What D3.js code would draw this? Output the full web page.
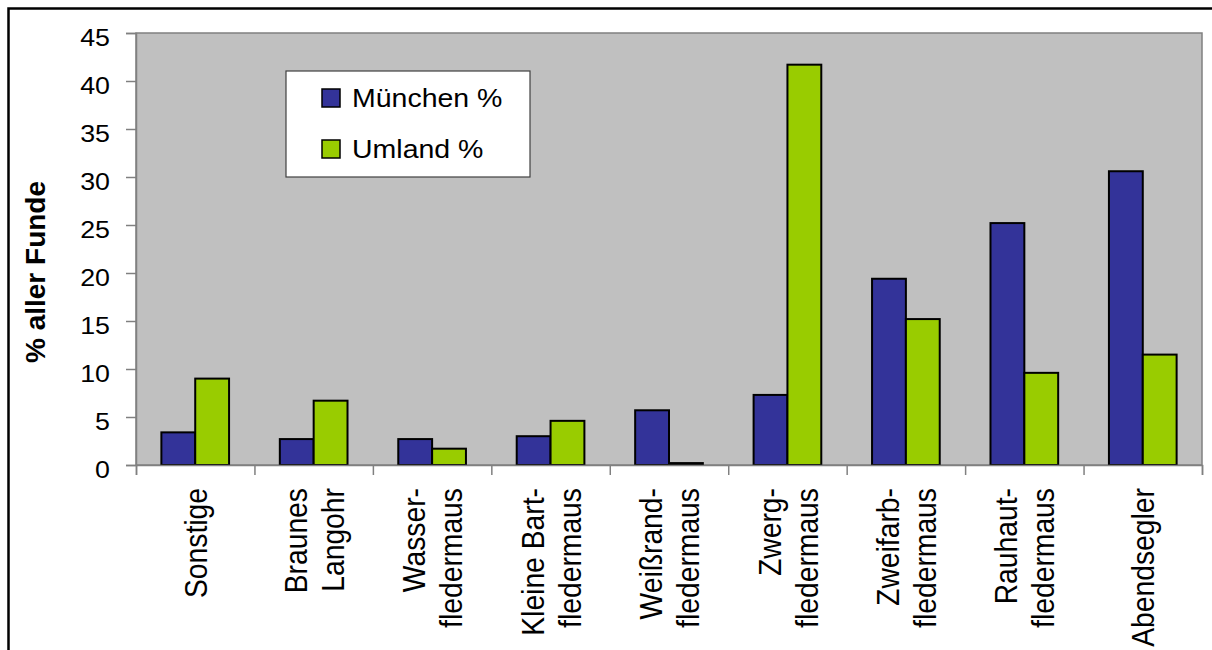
<!DOCTYPE html>
<html>
<head>
<meta charset="utf-8">
<script src="https://cdn.jsdelivr.net/npm/d3@7"></script>
<style>
  html, body { margin: 0; padding: 0; background: #fff; }
  svg { display: block; font-family: "Liberation Sans", Arial, sans-serif; }
</style>
</head>
<body>
<svg id="chart" width="1212" height="650"></svg>
<script>
// Fledermaus-Funde: Anteil je Art, München vs. Umland
const categories = [
  ["Sonstige"],
  ["Braunes", "Langohr"],
  ["Wasser-", "fledermaus"],
  ["Kleine Bart-", "fledermaus"],
  ["Weißrand-", "fledermaus"],
  ["Zwerg-", "fledermaus"],
  ["Zweifarb-", "fledermaus"],
  ["Rauhaut-", "fledermaus"],
  ["Abendsegler"]
];
const seriesNames = ["München %", "Umland %"];
const muenchen = [3.4, 2.7, 2.7, 3.0, 5.7, 7.3, 19.4, 25.2, 30.6];
const umland   = [9.0, 6.7, 1.7, 4.6, 0.2, 41.7, 15.2, 9.6, 11.5];
const yTicks = [0, 5, 10, 15, 20, 25, 30, 35, 40, 45];
const seriesColors = ["#333399", "#99CC00"];

const svg = d3.select("#chart");
const plot = { left: 136, right: 1202, top: 33, bottom: 465 };
const sx = 1.14; // horizontal glyph stretch of all labels

// outer frame
svg.append("rect")
  .attr("x", 8.5).attr("y", 8.5)
  .attr("width", 1300).attr("height", 800)
  .attr("fill", "none").attr("stroke", "#000").attr("stroke-width", 2.5);

const keys = categories.map((c, i) => i);
const x = d3.scaleBand().domain(keys).range([plot.left, plot.right]).padding(0);
const xs = d3.scaleBand().domain([0, 1]).range([0, x.step()])
  .paddingInner(0).paddingOuter(0.75);
const y = d3.scaleLinear().domain([0, 45]).range([plot.bottom, plot.top]);

// plot area
svg.append("rect")
  .attr("x", plot.left).attr("y", plot.top)
  .attr("width", plot.right - plot.left).attr("height", plot.bottom - plot.top)
  .attr("fill", "#C0C0C0").attr("stroke", "#808080").attr("stroke-width", 1.5);

// bars
const data = keys.map(i => [muenchen[i], umland[i]]);
const groups = svg.append("g").selectAll("g").data(data).join("g")
  .attr("transform", (d, i) => `translate(${x(i)},0)`);
groups.selectAll("rect").data(d => d.map((v, s) => ({ v, s }))).join("rect")
  .attr("x", d => xs(d.s))
  .attr("y", d => y(d.v))
  .attr("width", xs.bandwidth())
  .attr("height", d => y(0) - y(d.v))
  .attr("fill", d => seriesColors[d.s])
  .attr("stroke", "#000").attr("stroke-width", 2);

// y axis
const yAxis = svg.append("g")
  .attr("transform", `translate(${plot.left},0)`)
  .call(d3.axisLeft(y).tickValues(yTicks).tickSize(10).tickPadding(0).tickFormat(d3.format("d")));
yAxis.select(".domain").attr("stroke", "#808080").attr("stroke-width", 1.5);
yAxis.selectAll(".tick line").attr("stroke", "#808080").attr("stroke-width", 1.5);
yAxis.selectAll(".tick text")
  .attr("x", null).attr("dy", null)
  .attr("font-size", 23.5).attr("fill", "#000")
  .attr("font-family", "'Liberation Sans', Arial, sans-serif")
  .attr("text-anchor", "end")
  .attr("transform", `translate(-26,12) scale(${sx},1)`);

// x axis with ticks on category boundaries
const bounds = d3.range(categories.length + 1).map(i => plot.left + i * x.step());
const xb = d3.scaleLinear().domain([plot.left, plot.right]).range([plot.left, plot.right]);
const xAxis = svg.append("g")
  .attr("transform", `translate(0,${plot.bottom})`)
  .call(d3.axisBottom(xb).tickValues(bounds).tickSize(10).tickFormat(""));
xAxis.select(".domain").attr("stroke", "#808080").attr("stroke-width", 1.5);
xAxis.selectAll(".tick line").attr("stroke", "#808080").attr("stroke-width", 1.5);

// category labels, rotated
const lineGap = 37;
const labels = svg.append("g");
categories.forEach((lines, i) => {
  const cx = x(i) + x.bandwidth() / 2;
  lines.forEach((t, j) => {
    const lx = cx + (j - (lines.length - 1) / 2) * lineGap;
    labels.append("text")
      .attr("transform", `translate(${lx},488) scale(${sx},1) rotate(-90)`)
      .attr("text-anchor", "end")
      .attr("dy", "0.36em")
      .attr("font-size", 28.3)
      .text(t);
  });
});

// y axis title
svg.append("text")
  .attr("transform", `translate(35,272) rotate(-90)`)
  .attr("text-anchor", "middle")
  .attr("dy", "0.36em")
  .attr("font-size", 28)
  .attr("font-weight", "bold")
  .text("% aller Funde");

// legend
const lg = svg.append("g");
lg.append("rect")
  .attr("x", 286).attr("y", 71).attr("width", 244).attr("height", 106)
  .attr("fill", "#fff").attr("stroke", "#404040").attr("stroke-width", 1.2);
seriesNames.forEach((name, s) => {
  const yy = 89 + s * 51;
  lg.append("rect")
    .attr("x", 322).attr("y", yy).attr("width", 18).attr("height", 18)
    .attr("fill", seriesColors[s]).attr("stroke", "#000").attr("stroke-width", 1.5);
  lg.append("text")
    .attr("transform", `translate(352,${yy + 18}) scale(${sx},1)`)
    .attr("font-size", 25)
    .text(name);
});
</script>
</body>
</html>
